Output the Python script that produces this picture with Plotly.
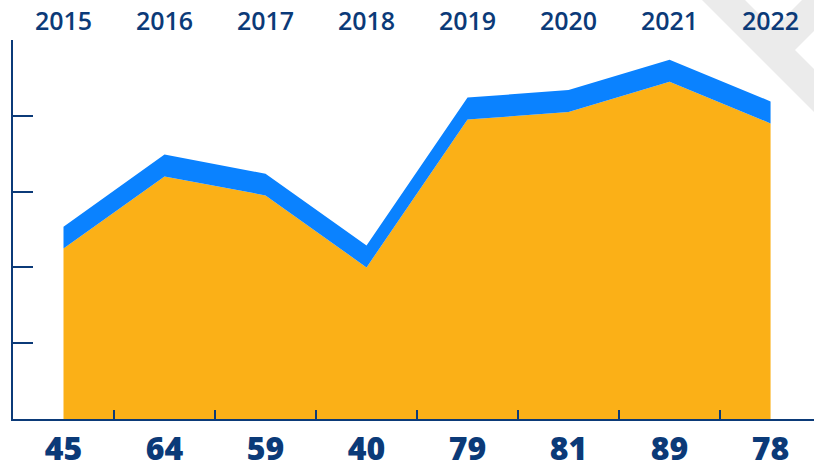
import plotly.graph_objects as go

years = ["2015", "2016", "2017", "2018", "2019", "2020", "2021", "2022"]
orange_values = [45, 64, 59, 40, 79, 81, 89, 78]
blue_values = [5.7, 5.8, 5.7, 5.8, 5.8, 5.8, 5.8, 5.8]
value_labels = [str(v) for v in orange_values]

NAVY = "#0B3A78"
ORANGE = "#FBB017"
BLUE = "#0A82FF"
GRAY = "#EBEBEB"

W, H = 814, 462
ML, MR, MT, MB = 13, 0, 40, 43
PW, PH = W - ML - MR, H - MT - MB


def px(x, y):
    return ((x - ML) / PW, (H - MB - y) / PH)


def poly(points):
    s = ""
    for i, (x, y) in enumerate(points):
        a, b = px(x, y)
        s += ("M" if i == 0 else "L") + f"{a:.4f},{b:.4f} "
    return s + "Z"


xs = list(range(len(years)))

fig = go.Figure()
fig.add_trace(go.Scatter(
    x=xs, y=orange_values, mode="lines", line=dict(width=0, color=ORANGE),
    fill="tozeroy", fillcolor=ORANGE, stackgroup="s", hoverinfo="skip",
    showlegend=False))
fig.add_trace(go.Scatter(
    x=xs, y=blue_values, mode="lines", line=dict(width=0, color=BLUE),
    fill="tonexty", fillcolor=BLUE, stackgroup="s", hoverinfo="skip",
    showlegend=False))
fig.add_trace(go.Scatter(
    x=xs, y=[None] * len(xs), xaxis="x2", mode="lines", showlegend=False,
    hoverinfo="skip"))

shapes = [
    dict(type="path", xref="paper", yref="paper", layer="below",
         path=poly([(702, 0), (745, 0), (880, 135), (837, 135)]),
         fillcolor=GRAY, line=dict(width=0)),
    dict(type="path", xref="paper", yref="paper", layer="below",
         path=poly([(802, 0), (845, 0), (795, 50), (752, 50)]),
         fillcolor=GRAY, line=dict(width=0)),
]

fig.update_layout(
    width=W, height=H,
    margin=dict(l=ML, r=MR, t=MT, b=MB, pad=0, autoexpand=False),
    paper_bgcolor="white", plot_bgcolor="rgba(0,0,0,0)",
    shapes=shapes,
    xaxis=dict(
        range=[-0.5, 7.43], tickmode="array", tickvals=xs, ticktext=value_labels,
        ticks="", showgrid=False, zeroline=False, showline=True,
        linecolor=NAVY, linewidth=2, automargin=False,
        tickfont=dict(family="Open Sans", size=32, color=NAVY, weight=800),
        ticklabelstandoff=1,
        minor=dict(tickmode="array", tickvals=[i + 0.5 for i in range(7)],
                   ticks="inside", ticklen=9, tickwidth=2, tickcolor=NAVY,
                   showgrid=False),
    ),
    xaxis2=dict(
        overlaying="x", side="top", matches="x", tickmode="array",
        tickvals=xs, ticktext=years, ticks="", showgrid=False, zeroline=False,
        showline=False, automargin=False,
        tickfont=dict(family="Open Sans", size=25, color=NAVY, weight=600),
        ticklabelstandoff=4,
    ),
    yaxis=dict(
        range=[0, 100], tickmode="array", tickvals=[0, 20, 40, 60, 80, 100],
        ticks="inside", ticklen=20, tickwidth=2, tickcolor=NAVY,
        showticklabels=False, showgrid=False, zeroline=False, showline=True,
        linecolor=NAVY, linewidth=2, automargin=False,
    ),
)

fig.write_html("out.html", config={"displayModeBar": False},
               post_script="document.body.style.margin='0';document.body.style.overflow='hidden';")
